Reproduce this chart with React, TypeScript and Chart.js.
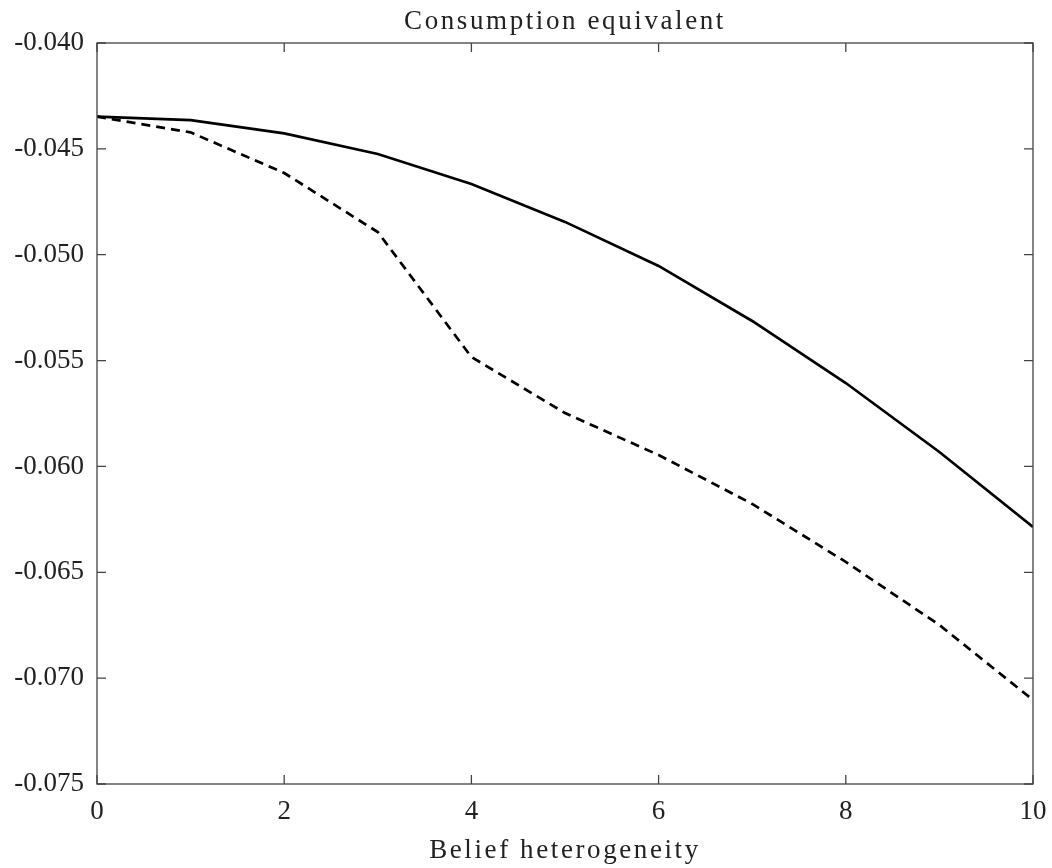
import React, { useEffect, useRef } from "react";
import { Chart, registerables } from "chart.js";

Chart.register(...registerables);

const xValues = [0, 1, 2, 3, 4, 5, 6, 7, 8, 9, 10];
const solidSeries = [-0.04348, -0.04364, -0.04427, -0.04524, -0.04666, -0.04845, -0.05053, -0.05313, -0.05606, -0.05932, -0.06286];
const dashedSeries = [-0.04348, -0.04422, -0.04614, -0.04893, -0.05483, -0.05748, -0.05946, -0.06177, -0.06451, -0.06749, -0.07103];
const titleText = "Consumption equivalent";
const xLabel = "Belief heterogeneity";

const FONT = "'Liberation Serif', 'DejaVu Serif', serif";
const FONT_SIZE = 27;

const framePlugin = {
  id: "frameTicks",
  afterDraw(chart: any) {
    const { ctx, chartArea } = chart;
    const { left, right, top, bottom } = chartArea;
    const xs = chart.scales.x;
    const ys = chart.scales.y;
    ctx.save();
    ctx.strokeStyle = "#444";
    ctx.lineWidth = 1.3;
    ctx.strokeRect(left, top, right - left, bottom - top);
    const tl = 9;
    ctx.beginPath();
    xs.ticks.forEach((t: any) => {
      const px = xs.getPixelForValue(t.value);
      ctx.moveTo(px, bottom);
      ctx.lineTo(px, bottom - tl);
      ctx.moveTo(px, top);
      ctx.lineTo(px, top + tl);
    });
    ys.ticks.forEach((t: any) => {
      const py = ys.getPixelForValue(t.value);
      ctx.moveTo(left, py);
      ctx.lineTo(left + tl, py);
      ctx.moveTo(right, py);
      ctx.lineTo(right - tl, py);
    });
    ctx.stroke();
    ctx.fillStyle = "#222";
    ctx.font = `${FONT_SIZE}px ${FONT}`;
    ctx.textAlign = "center";
    ctx.textBaseline = "alphabetic";
    try {
      (ctx as any).letterSpacing = "2.6px";
    } catch (e) {}
    const cx = (left + right) / 2;
    ctx.fillText(titleText, cx, 29);
    ctx.fillText(xLabel, cx, 858);
    ctx.restore();
  },
};

export default function App() {
  const ref = useRef<HTMLCanvasElement | null>(null);
  useEffect(() => {
    document.body.style.margin = "0";
    const chart = new Chart(ref.current as HTMLCanvasElement, {
      type: "line",
      data: {
        datasets: [
          {
            data: xValues.map((x, i) => ({ x, y: solidSeries[i] })),
            borderColor: "#000",
            borderWidth: 2.7,
            pointRadius: 0,
            tension: 0,
          },
          {
            data: xValues.map((x, i) => ({ x, y: dashedSeries[i] })),
            borderColor: "#000",
            borderWidth: 2.7,
            borderDash: [9, 6],
            pointRadius: 0,
            tension: 0,
          },
        ],
      },
      options: {
        animation: false,
        responsive: false,
        devicePixelRatio: 1,
        layout: { padding: { top: 43, right: 19, left: 0, bottom: 0 } },
        plugins: { legend: { display: false }, tooltip: { enabled: false }, title: { display: false } },
        scales: {
          x: {
            type: "linear",
            min: 0,
            max: 10,
            border: { display: false },
            grid: { display: false, drawTicks: false, tickLength: 0 },
            ticks: {
              stepSize: 2,
              padding: 12,
              color: "#222",
              font: { family: FONT, size: FONT_SIZE },
              maxRotation: 0,
              callback: (v: any) => String(v),
            },
            afterFit: (s: any) => {
              s.height = 84;
              s.paddingRight = 0;
              s.paddingLeft = 0;
            },
          },
          y: {
            type: "linear",
            min: -0.075,
            max: -0.04,
            border: { display: false },
            grid: { display: false, drawTicks: false, tickLength: 0 },
            ticks: {
              stepSize: 0.005,
              padding: 13,
              color: "#222",
              font: { family: FONT, size: FONT_SIZE },
              callback: (v: any) => Number(v).toFixed(3),
            },
            afterFit: (s: any) => {
              s.width = 97;
              s.paddingTop = 0;
              s.paddingBottom = 0;
            },
          },
        },
      },
      plugins: [framePlugin],
    } as any);
    return () => chart.destroy();
  }, []);
  return (
    <div style={{ position: "fixed", left: 0, top: 0, width: 1052, height: 868, background: "#fff" }}>
      <canvas ref={ref} width={1052} height={868} />
    </div>
  );
}
